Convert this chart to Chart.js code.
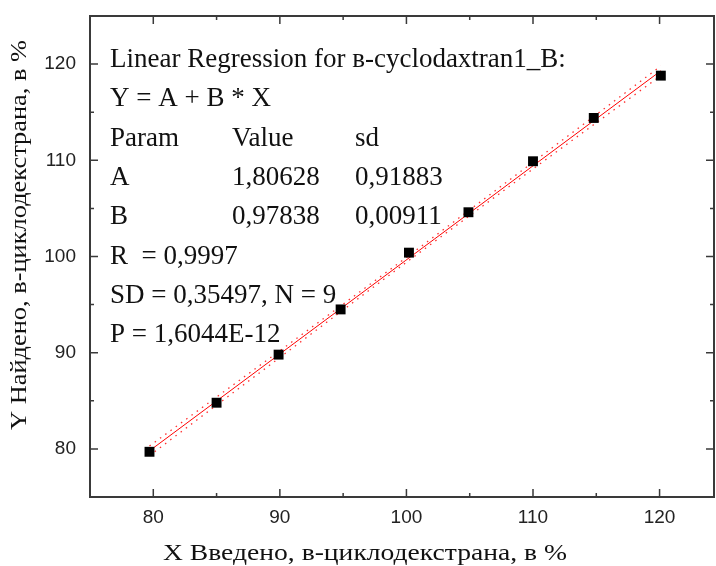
<!DOCTYPE html>
<html>
<head>
<meta charset="utf-8">
<script src="https://cdn.jsdelivr.net/npm/chart.js@4"></script>
<style>
  html, body { margin: 0; padding: 0; background: #fff; }
  #wrap { width: 716px; height: 566px; }
</style>
</head>
<body>
<div id="wrap"><canvas id="regChart"></canvas></div>
<script>
// measured points
const xIntro = [79.7, 85.0, 89.9, 94.8, 100.2, 104.9, 110.0, 114.8, 120.1];
const yFound = [79.7, 84.8, 89.8, 94.5, 100.4, 104.6, 109.9, 114.4, 118.8];

// fitted line and 95% band
const fitX = [79.7, 120.1];
const fitY = [79.8, 119.3];
const bandX = [79.7, 90, 100, 110, 120.1];
const bandUpper = [80.3, 90.2, 99.9, 109.8, 119.8];
const bandLower = [79.3, 89.5, 99.4, 109.1, 118.8];

const xTicks = [80, 90, 100, 110, 120];
const yTicks = [80, 90, 100, 110, 120];

const statsRows = [
  ['Linear Regression for в-cyclodaxtran1_B:'],
  ['Y = A + B * X'],
  ['Param', 'Value', 'sd'],
  ['A', '1,80628', '0,91883'],
  ['B', '0,97838', '0,00911'],
  ['R  = 0,9997'],
  ['SD = 0,35497, N = 9'],
  ['P = 1,6044E-12'],
];

const xTitle = 'X Введено, в-циклодекстрана, в %';
const yTitle = 'Y Найдено, в-циклодекстрана, в %';

const serif = '"Liberation Serif", "Times New Roman", serif';
const toPts = (xs, ys) => xs.map((x, i) => ({ x: x, y: ys[i] }));

// draws text squeezed/stretched to a given width
function fitText(ctx, text, cx, cy, width, rot) {
  const w = ctx.measureText(text).width;
  ctx.save();
  ctx.translate(cx, cy);
  ctx.rotate(rot);
  ctx.scale(width / w, 1);
  ctx.textAlign = 'center';
  ctx.fillText(text, 0, 0);
  ctx.restore();
}

// frame with inward ticks on all four sides, axis titles and the stats block
const framePlugin = {
  id: 'frame',
  afterDatasetsDraw(chart) {
    const { ctx, chartArea: a, scales } = chart;
    ctx.save();
    ctx.strokeStyle = '#3a3a3a';
    ctx.lineWidth = 2;
    ctx.strokeRect(a.left, a.top, a.right - a.left, a.bottom - a.top);
    ctx.lineWidth = 1.5;
    ctx.beginPath();
    for (let v = 75; v <= 125; v += 5) {
      const len = v % 10 === 0 ? 8 : 4;
      const px = scales.x.getPixelForValue(v);
      if (px > a.left + 1 && px < a.right - 1) {
        ctx.moveTo(px, a.bottom); ctx.lineTo(px, a.bottom - len);
        ctx.moveTo(px, a.top); ctx.lineTo(px, a.top + len);
      }
      const py = scales.y.getPixelForValue(v);
      if (py > a.top + 1 && py < a.bottom - 1) {
        ctx.moveTo(a.left, py); ctx.lineTo(a.left + len, py);
        ctx.moveTo(a.right, py); ctx.lineTo(a.right - len, py);
      }
    }
    ctx.stroke();

    ctx.fillStyle = '#111';
    ctx.textBaseline = 'alphabetic';

    // stats block
    ctx.font = '27px ' + serif;
    const colX = [a.left + 20, a.left + 142, a.left + 265];
    statsRows.forEach((row, i) => {
      const y = a.top + 51 + i * 39.3;
      row.forEach((cell, j) => ctx.fillText(cell, colX[j], y));
    });

    // axis titles
    ctx.font = '23px ' + serif;
    fitText(ctx, xTitle, 365, 560, 404, 0);
    fitText(ctx, yTitle, 26, 235, 390, -Math.PI / 2);
    ctx.restore();
  }
};

const ctx = document.getElementById('regChart').getContext('2d');
new Chart(ctx, {
  type: 'scatter',
  data: {
    datasets: [
      {
        label: 'points',
        data: toPts(xIntro, yFound),
        pointStyle: 'rect',
        pointRadius: 7,
        backgroundColor: '#000',
        borderColor: '#000',
        borderWidth: 0,
        order: 0,
      },
      {
        label: 'fit',
        data: toPts(fitX, fitY),
        showLine: true,
        borderColor: '#ff0000',
        borderWidth: 1,
        pointRadius: 0,
        order: 1,
      },
      {
        label: 'upper',
        data: toPts(bandX, bandUpper),
        showLine: true,
        borderColor: '#ff3030',
        borderWidth: 1.3,
        borderDash: [1.5, 5],
        pointRadius: 0,
        order: 2,
      },
      {
        label: 'lower',
        data: toPts(bandX, bandLower),
        showLine: true,
        borderColor: '#ff3030',
        borderWidth: 1.3,
        borderDash: [1.5, 5],
        pointRadius: 0,
        order: 2,
      },
    ],
  },
  options: {
    animation: false,
    responsive: true,
    maintainAspectRatio: false,
    layout: { autoPadding: false, padding: { top: 16, right: 2, left: 0, bottom: 0 } },
    plugins: {
      legend: { display: false },
      tooltip: { enabled: false },
    },
    scales: {
      x: {
        type: 'linear',
        min: 75,
        max: 124.3,
        afterFit: (s) => { s.height = 69; s.paddingLeft = 0; s.paddingRight = 0; },
        afterBuildTicks: (s) => { s.ticks = xTicks.map((v) => ({ value: v })); },
        grid: { display: false, drawTicks: false },
        border: { display: false },
        ticks: {
          padding: 9,
          color: '#222',
          font: { family: '"Liberation Sans Narrow", "Liberation Sans", Arial, sans-serif', size: 19 },
        },
      },
      y: {
        type: 'linear',
        min: 75,
        max: 125,
        afterFit: (s) => { s.width = 90; s.paddingTop = 0; s.paddingBottom = 0; },
        afterBuildTicks: (s) => { s.ticks = yTicks.map((v) => ({ value: v })); },
        grid: { display: false, drawTicks: false },
        border: { display: false },
        ticks: {
          padding: 14,
          color: '#222',
          font: { family: '"Liberation Sans Narrow", "Liberation Sans", Arial, sans-serif', size: 19 },
        },
      },
    },
  },
  plugins: [framePlugin],
});
</script>
</body>
</html>
